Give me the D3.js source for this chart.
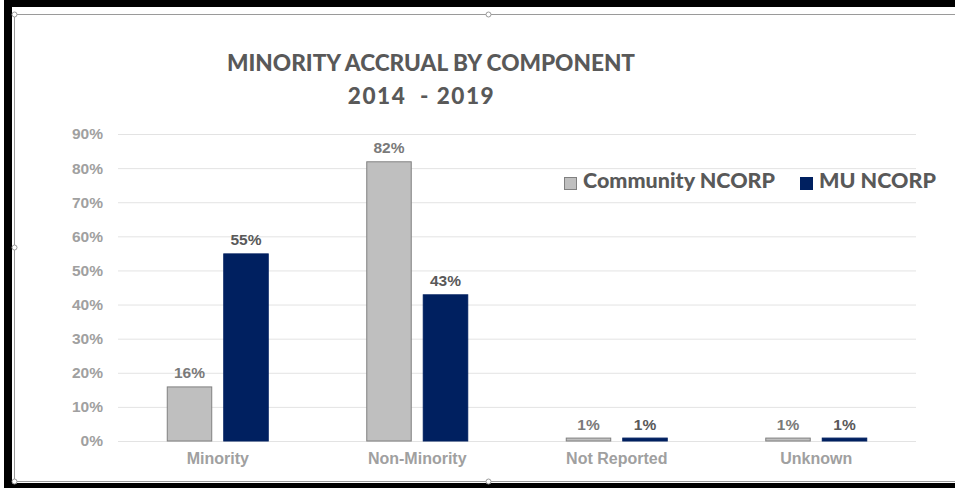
<!DOCTYPE html>
<html>
<head>
<meta charset="utf-8">
<script src="https://cdn.jsdelivr.net/npm/d3@7"></script>
<style>
  html, body { margin: 0; padding: 0; background: #fff; }
  svg { display: block; }
</style>
</head>
<body>
<svg id="chart" width="955" height="488"></svg>
<script>
// ---- data ----
const categories = ["Minority", "Non-Minority", "Not Reported", "Unknown"];
const seriesNames = ["Community NCORP", "MU NCORP"];
const communityValues = [0.16, 0.82, 0.01, 0.01];
const muValues = [0.55, 0.43, 0.01, 0.01];
const yTicks = [0, 0.1, 0.2, 0.3, 0.4, 0.5, 0.6, 0.7, 0.8, 0.9];
const titleLines = ["MINORITY ACCRUAL BY COMPONENT", "2014  - 2019"];

const seriesValues = [communityValues, muValues];
const seriesFill = ["#bfbfbf", "#002060"];
const seriesStroke = ["#808080", "#002060"];
const labelColor = ["#7a7a7a", "#595959"];

const svg = d3.select("#chart");
const W = 955, H = 488;

// plot area
const plot = { left: 118, right: 916, top: 134, bottom: 441 };

/* Frame: heavy black border (top, left, bottom) and thin gray inner box */
svg.append("rect").attr("x", 4).attr("y", 0).attr("width", W - 4).attr("height", 7).attr("fill", "#000");
svg.append("rect").attr("x", 4).attr("y", 0).attr("width", 8).attr("height", H).attr("fill", "#000");
svg.append("rect").attr("x", 4).attr("y", 483).attr("width", W - 4).attr("height", 5).attr("fill", "#000");
svg.append("path")
   .attr("d", `M${W},14.5 H14.5 V481.5 H${W}`)
   .attr("fill", "none").attr("stroke", "#9a9a9a").attr("stroke-width", 1);

// selection handles on the chart box
[[14.5, 14.5], [488.5, 14.5], [14.5, 247.5], [14.5, 481.5], [488.5, 481.5]].forEach(([cx, cy]) => {
    svg.append("circle").attr("cx", cx).attr("cy", cy).attr("r", 2.5)
       .attr("fill", "#fff").attr("stroke", "#9a9a9a").attr("stroke-width", 1);
});

/* Scales */
const x0 = d3.scaleBand()
    .domain(categories)
    .range([plot.left, plot.right]);

const x1 = d3.scaleBand()
    .domain(seriesNames)
    .range([0, x0.bandwidth()])
    .paddingInner(0.195)
    .paddingOuter(0.863);

const y = d3.scaleLinear()
    .domain([0, 0.9])
    .range([plot.bottom, plot.top]);

/* Gridlines + y labels */
const yAxis = svg.append("g")
    .attr("transform", `translate(${plot.left},0)`)
    .call(d3.axisLeft(y)
        .tickValues(yTicks)
        .tickSize(-(plot.right - plot.left))
        .tickPadding(15)
        .tickFormat(d3.format(".0%")));
yAxis.select(".domain").remove();
yAxis.selectAll(".tick line").attr("stroke", "#e3e3e3").attr("stroke-width", 1);
yAxis.selectAll(".tick text")
    .attr("fill", "#a0a0a0")
    .style("font-family", "Arial, 'Liberation Sans', sans-serif")
    .style("font-weight", "bold")
    .style("font-size", "15.5px");

/* x labels */
const xAxis = svg.append("g")
    .attr("transform", `translate(0,${plot.bottom})`)
    .call(d3.axisBottom(x0).tickSize(0).tickPadding(12));
xAxis.select(".domain").remove();
xAxis.selectAll(".tick text")
    .attr("fill", "#a0a0a0")
    .style("font-family", "Arial, 'Liberation Sans', sans-serif")
    .style("font-weight", "bold")
    .style("font-size", "16px");

/* Bars */
seriesNames.forEach((s, si) => {
    const g = svg.append("g");
    g.selectAll("rect")
        .data(categories)
        .join("rect")
        .attr("x", c => x0(c) + x1(s) + 0.5)
        .attr("y", (c, i) => y(seriesValues[si][i]) + 0.5)
        .attr("width", x1.bandwidth() - 1)
        .attr("height", (c, i) => y(0) - y(seriesValues[si][i]) - 0.5)
        .attr("fill", seriesFill[si])
        .attr("stroke", seriesStroke[si])
        .attr("stroke-width", 1);

    // value labels
    g.selectAll("text")
        .data(categories)
        .join("text")
        .attr("x", c => x0(c) + x1(s) + x1.bandwidth() / 2)
        .attr("y", (c, i) => y(seriesValues[si][i]) - 8)
        .attr("text-anchor", "middle")
        .attr("fill", labelColor[si])
        .style("font-family", "Arial, 'Liberation Sans', sans-serif")
        .style("font-weight", "bold")
        .style("font-size", "15.5px")
        .text((c, i) => d3.format(".0%")(seriesValues[si][i]));
});

/* Title */
svg.append("text")
    .attr("x", 431).attr("y", 71)
    .attr("text-anchor", "middle")
    .attr("fill", "#595959")
    .style("font-family", "Lato, 'Open Sans', sans-serif")
    .style("font-weight", "900")
    .style("font-size", "22.6px")
    .text(titleLines[0]);
svg.append("text")
    .attr("x", 421.5).attr("y", 104)
    .attr("text-anchor", "middle")
    .attr("fill", "#595959")
    .style("white-space", "pre")
    .style("font-family", "Lato, 'Open Sans', sans-serif")
    .style("font-weight", "900")
    .style("font-size", "22.6px")
    .style("letter-spacing", "1.5px")
    .text(titleLines[1]);

/* Legend */
const legend = svg.append("g").attr("transform", "translate(564,177)");
const legendX = [0, 236];
seriesNames.forEach((s, si) => {
    const item = legend.append("g").attr("transform", `translate(${legendX[si]},0)`);
    item.append("rect")
        .attr("x", 0.5).attr("y", 0.5).attr("width", 12).attr("height", 12)
        .attr("fill", seriesFill[si]).attr("stroke", seriesStroke[si]);
    item.append("text")
        .attr("x", 19).attr("y", 11)
        .attr("fill", "#595959")
        .style("font-family", "Lato, 'Open Sans', sans-serif")
        .style("font-weight", "900")
        .style("font-size", "21.5px")
        .text(s);
});
</script>
</body>
</html>
